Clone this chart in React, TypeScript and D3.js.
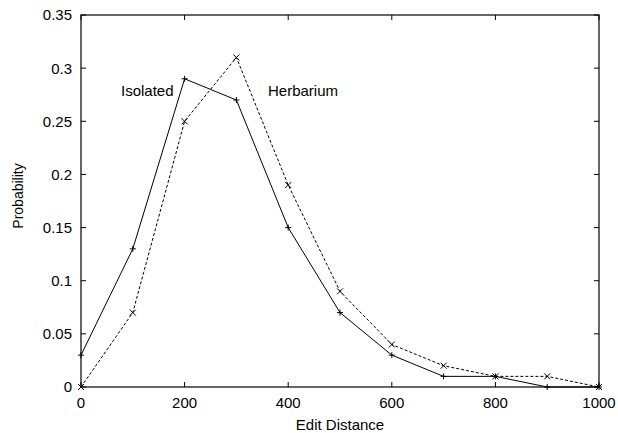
import React, { useEffect, useRef } from 'react';
import * as d3 from 'd3';

const distances = [0, 100, 200, 300, 400, 500, 600, 700, 800, 900, 1000];
const isolated = [0.03, 0.13, 0.29, 0.27, 0.15, 0.07, 0.03, 0.01, 0.01, 0, 0];
const herbarium = [0, 0.07, 0.25, 0.31, 0.19, 0.09, 0.04, 0.02, 0.01, 0.01, 0];
const xTicks = [0, 200, 400, 600, 800, 1000];
const yTicks = [0, 0.05, 0.1, 0.15, 0.2, 0.25, 0.3, 0.35];

const App: React.FC = () => {
  const svgRef = useRef<SVGSVGElement>(null);

  useEffect(() => {
    if (!svgRef.current) return;
    const W = 618, H = 433;
    const m = { left: 81, right: 19, top: 15, bottom: 46 };
    const font = 'Liberation Sans, Arial, Helvetica, sans-serif';

    const svg = d3.select(svgRef.current);
    svg.selectAll('*').remove();
    svg.attr('width', W).attr('height', H);

    const x = d3.scaleLinear().domain([0, 1000]).range([m.left, W - m.right]);
    const y = d3.scaleLinear().domain([0, 0.35]).range([H - m.bottom, m.top]);

    const g = svg.append('g');

    // ticks on all sides (inward)
    const tl = 5;
    xTicks.forEach(t => {
      g.append('line').attr('x1', x(t)).attr('x2', x(t)).attr('y1', y(0)).attr('y2', y(0) - tl).attr('stroke', '#000');
      g.append('line').attr('x1', x(t)).attr('x2', x(t)).attr('y1', y(0.35)).attr('y2', y(0.35) + tl).attr('stroke', '#000');
      g.append('text').attr('x', x(t)).attr('y', y(0) + 21).attr('text-anchor', 'middle')
        .attr('font-family', font).attr('font-size', 15).text(String(t));
    });
    yTicks.forEach(t => {
      g.append('line').attr('x1', x(0)).attr('x2', x(0) + tl).attr('y1', y(t)).attr('y2', y(t)).attr('stroke', '#000');
      g.append('line').attr('x1', x(1000)).attr('x2', x(1000) - tl).attr('y1', y(t)).attr('y2', y(t)).attr('stroke', '#000');
      g.append('text').attr('x', x(0) - 9).attr('y', y(t)).attr('dy', '0.36em').attr('text-anchor', 'end')
        .attr('font-family', font).attr('font-size', 15).text(String(t));
    });

    g.append('rect').attr('x', x(0)).attr('y', y(0.35)).attr('width', x(1000) - x(0)).attr('height', y(0) - y(0.35))
      .attr('fill', 'none').attr('stroke', '#000').attr('stroke-width', 1.2);

    const line = d3.line<number>().x((_, i) => x(distances[i])).y(d => y(d));

    g.append('path').attr('d', line(herbarium)).attr('fill', 'none').attr('stroke', '#000')
      .attr('stroke-width', 1).attr('stroke-dasharray', '3,2');
    g.append('path').attr('d', line(isolated)).attr('fill', 'none').attr('stroke', '#000').attr('stroke-width', 1);

    const s = 3;
    isolated.forEach((v, i) => {
      const cx = x(distances[i]), cy = y(v);
      g.append('path').attr('d', `M${cx - s},${cy}H${cx + s}M${cx},${cy - s}V${cy + s}`).attr('stroke', '#000');
    });
    herbarium.forEach((v, i) => {
      const cx = x(distances[i]), cy = y(v);
      g.append('path').attr('d', `M${cx - s},${cy - s}L${cx + s},${cy + s}M${cx - s},${cy + s}L${cx + s},${cy - s}`).attr('stroke', '#000');
    });

    g.append('text').attr('x', 121).attr('y', 96).attr('font-family', font).attr('font-size', 15).text('Isolated');
    g.append('text').attr('x', 268).attr('y', 96).attr('font-family', font).attr('font-size', 15).text('Herbarium');

    g.append('text').attr('x', (x(0) + x(1000)) / 2).attr('y', 430).attr('text-anchor', 'middle')
      .attr('font-family', font).attr('font-size', 15).text('Edit Distance');
    g.append('text').attr('transform', `translate(23,196) rotate(-90)`).attr('text-anchor', 'middle')
      .attr('font-family', font).attr('font-size', 14).text('Probability');
  }, []);

  return <svg ref={svgRef} style={{ position: 'absolute', left: 0, top: 0 }}></svg>;
};

export default App;
